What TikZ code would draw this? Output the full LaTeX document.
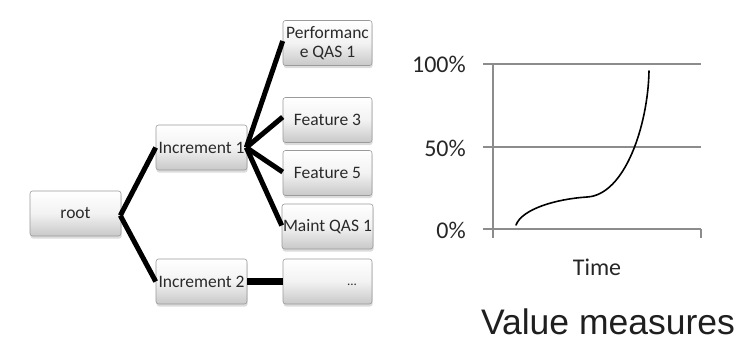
\documentclass[tikz,border=0pt]{standalone}
\usepackage{fontspec}
\setmainfont{Carlito}
\newfontfamily\titlefont{Liberation Sans}
\usetikzlibrary{shadows}
\definecolor{boxedge}{HTML}{9A9A9A}
\definecolor{boxlow}{HTML}{C8C8C8}
\definecolor{inkgray}{HTML}{2A2A2A}
\definecolor{gridgray}{HTML}{8C8C8C}
\tikzset{
  treebox/.style={rectangle, rounded corners=2.5pt, draw=boxedge, line width=0.6pt,
    top color=white, bottom color=boxlow, middle color=white!95!black,
    minimum width=91pt, minimum height=45pt, inner sep=1pt,
    font=\fontsize{17.5}{19}\selectfont, text=inkgray, align=center,
    drop shadow={opacity=0.28, shadow xshift=0.6pt, shadow yshift=-2.5pt}},
  leafbox/.style={treebox, minimum width=89pt},
  branch/.style={line width=5pt, black},
  gridline/.style={gridgray, line width=1.3pt},
  axislabel/.style={font=\fontsize{24}{26}\selectfont, text=black!85, inner sep=0pt}
}
\begin{document}
\begin{tikzpicture}[x=1pt, y=-1pt]
\useasboundingbox (0,0) rectangle (746,341);

% tree of boxes
\node[treebox] (root) at (75.5,213.5) {root};
\node[treebox] (inc1) at (201.5,147.5) {Increment 1};
\node[treebox] (inc2) at (201.5,281.5) {Increment 2};
\node[leafbox] (perf) at (327.5,43) {Performanc\\e QAS 1};
\node[leafbox] (feat3) at (327.5,120) {Feature 3};
\node[leafbox] (feat5) at (327.5,173) {Feature 5};
\node[leafbox] (maint) at (327.5,226.5) {Maint QAS 1};
\node[leafbox] (more) at (327.5,281.5) {};
\node[font=\fontsize{13}{13}\selectfont, text=inkgray, inner sep=0pt] (dots) at (352,285) {...};

% branches
\coordinate (rootout) at ([xshift=-1pt,yshift=-2pt]root.east);
\coordinate (inc1out) at ([xshift=-1pt]inc1.east);
\draw[branch] (rootout) -- (inc1.west);
\draw[branch] (rootout) -- (inc2.west);
\draw[branch] (inc1out) -- ([yshift=2pt]perf.west);
\draw[branch] (inc1out) -- ([yshift=3pt]feat3.west);
\draw[branch] (inc1out) -- ([yshift=1pt]feat5.west);
\draw[branch] (inc1out) -- ([yshift=1pt]maint.west);
\draw[line width=6.5pt, black] (inc2.east) -- (more.west);

% value chart
\coordinate (g100l) at (483,64);
\coordinate (g100r) at (701,64);
\coordinate (g50l) at (483,147);
\coordinate (g50r) at (701,147);
\coordinate (g0l) at (483,229);
\coordinate (g0r) at (701,229);
\coordinate (axtop) at (493,64);
\coordinate (axbot) at (493,238);
\coordinate (tickbot) at (701,238);
\draw[gridline] (g100l) -- (g100r);
\draw[gridline] (g50l) -- (g50r);
\draw[gridline] (g0l) -- (g0r);
\draw[gridline] (axtop) -- (axbot);
\draw[gridline] (g0r) -- (tickbot);

\node[axislabel, anchor=east] (l100) at (466,64) {100\%};
\node[axislabel, anchor=east] (l50) at (466,148) {50\%};
\node[axislabel, anchor=east] (l0) at (466,230) {0\%};
\node[axislabel] (time) at (597,267) {Time};

\coordinate (c0) at (516,225);
\coordinate (c1) at (587,197);
\coordinate (c2) at (649,71);
\draw[black, line width=1.6pt, line cap=round]
  (c0) .. controls (522,209) and (556,199) .. (c1)
       .. controls (625,195) and (648,125) .. (c2);

\node[font=\titlefont\fontsize{35.5}{37}\selectfont, text=black!88, inner sep=0pt,
      text depth=0pt, anchor=base] (title) at (608,334) {Value measures};
\end{tikzpicture}
\end{document}
